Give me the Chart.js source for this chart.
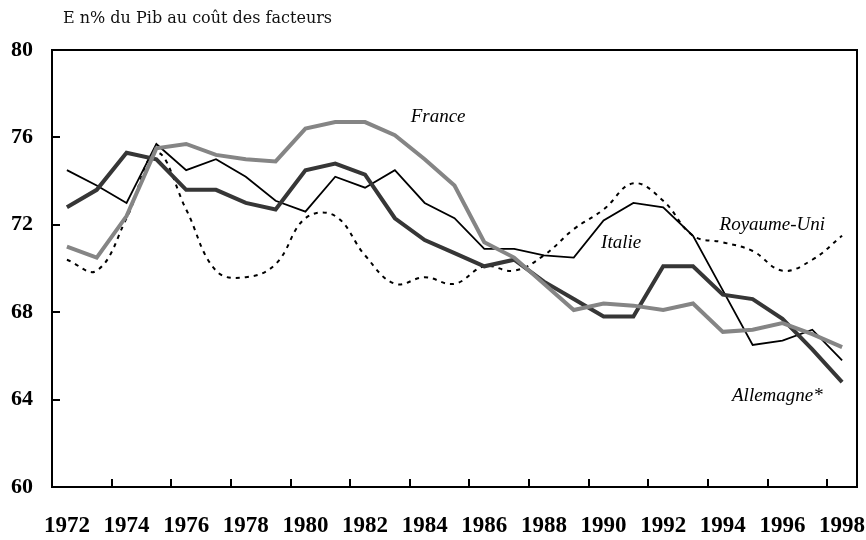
<!DOCTYPE html>
<html>
<head>
<meta charset="utf-8">
<script src="https://cdn.jsdelivr.net/npm/chart.js@4/dist/chart.umd.min.js"></script>
<style>
  html, body { margin: 0; padding: 0; background: #ffffff; }
  #wrap { width: 866px; height: 540px; position: relative; }
</style>
</head>
<body>
<div id="wrap"><canvas id="c" width="866" height="540"></canvas></div>
<script>
// ---- Data ----
const years = ["1972","1973","1974","1975","1976","1977","1978","1979","1980","1981","1982","1983","1984","1985","1986","1987","1988","1989","1990","1991","1992","1993","1994","1995","1996","1997","1998"];

const france    = [71.0, 70.5, 72.4, 75.5, 75.7, 75.2, 75.0, 74.9, 76.4, 76.7, 76.7, 76.1, 75.0, 73.8, 71.2, 70.5, 69.3, 68.1, 68.4, 68.3, 68.1, 68.4, 67.1, 67.2, 67.5, 67.0, 66.4];
const allemagne = [72.8, 73.6, 75.3, 75.0, 73.6, 73.6, 73.0, 72.7, 74.5, 74.8, 74.3, 72.3, 71.3, 70.7, 70.1, 70.4, 69.4, 68.6, 67.8, 67.8, 70.1, 70.1, 68.8, 68.6, 67.7, 66.3, 64.8];
const italie    = [74.5, 73.8, 73.0, 75.7, 74.5, 75.0, 74.2, 73.1, 72.6, 74.2, 73.7, 74.5, 73.0, 72.3, 70.9, 70.9, 70.6, 70.5, 72.2, 73.0, 72.8, 71.5, 69.0, 66.5, 66.7, 67.2, 65.8];
const royaumeUni= [70.4, 69.9, 72.3, 75.3, 72.7, 69.9, 69.6, 70.2, 72.3, 72.4, 70.6, 69.3, 69.6, 69.3, 70.1, 69.9, 70.6, 71.8, 72.7, 73.9, 73.1, 71.5, 71.2, 70.8, 69.9, 70.4, 71.5];

const yTicks = [60, 64, 68, 72, 76, 80];

const seriesLabels = ["France", "Allemagne*", "Italie", "Royaume-Uni"];
// Label anchors in data space: [category index, value]
const labelAnchors = [[12.45, 76.92], [23.83, 64.18], [18.59, 71.16], [23.66, 71.99]];

const title = "E n% du Pib au coût des facteurs";

// ---- Plugins (drawing only) ----
const framePlugin = {
  id: 'frame',
  afterDraw(chart) {
    const {ctx, chartArea: a, scales} = chart;
    ctx.save();
    ctx.strokeStyle = '#000';
    ctx.lineWidth = 2;
    ctx.beginPath();
    ctx.moveTo(a.left, a.top);
    ctx.lineTo(a.right, a.top);
    ctx.lineTo(a.right, a.bottom);
    ctx.stroke();
    // title
    ctx.fillStyle = '#111';
    ctx.font = '16px "DejaVu Serif"';
    ctx.textAlign = 'left';
    ctx.textBaseline = 'alphabetic';
    ctx.fillText(title, 63, 23);
    // series labels
    ctx.fillStyle = '#000';
    ctx.font = 'italic 19px "Liberation Serif"';
    ctx.textAlign = 'center';
    ctx.textBaseline = 'middle';
    seriesLabels.forEach((t, i) => {
      const x = scales.x.getPixelForValue(labelAnchors[i][0]);
      const y = scales.y.getPixelForValue(labelAnchors[i][1]);
      ctx.fillText(t, x, y);
    });
    ctx.restore();
  }
};

new Chart(document.getElementById('c'), {
  type: 'line',
  data: {
    labels: years,
    datasets: [
      { label: 'France', data: france, borderColor: '#858585', borderWidth: 4, pointRadius: 0, tension: 0, fill: false },
      { label: 'Allemagne*', data: allemagne, borderColor: '#363636', borderWidth: 4, pointRadius: 0, tension: 0, fill: false },
      { label: 'Italie', data: italie, borderColor: '#000000', borderWidth: 1.8, pointRadius: 0, tension: 0, fill: false },
      { label: 'Royaume-Uni', data: royaumeUni, borderColor: '#000000', borderWidth: 2, borderDash: [4, 5], pointRadius: 0, tension: 0.4, fill: false }
    ]
  },
  options: {
    responsive: false,
    animation: false,
    devicePixelRatio: 1,
    layout: { padding: { top: 50, right: 9, left: 0, bottom: 0 } },
    plugins: { legend: { display: false }, tooltip: { enabled: false }, title: { display: false } },
    scales: {
      x: {
        type: 'category',
        offset: true,
        grid: {
          offset: true,
          drawOnChartArea: false,
          drawTicks: true,
          tickLength: -8,
          lineWidth: 2,
          color: (ctx) => (ctx.index % 2 === 0 ? '#000' : 'rgba(0,0,0,0)')
        },
        border: { display: true, color: '#000', width: 2 },
        ticks: {
          autoSkip: false,
          maxRotation: 0,
          color: '#000',
          font: { family: '"Liberation Serif"', size: 23, weight: 'bold' },
          padding: 33,
          callback: function (v, i) { return i % 2 === 0 ? this.getLabelForValue(v) : ''; }
        },
        afterFit: (s) => { s.height = 53; s.paddingLeft = 0; s.paddingRight = 0; }
      },
      y: {
        min: 60, max: 80,
        afterBuildTicks: (s) => { s.ticks = yTicks.map(v => ({ value: v })); },
        grid: { drawOnChartArea: false, drawTicks: true, tickLength: -8, lineWidth: 2, color: '#000' },
        border: { display: true, color: '#000', width: 2 },
        ticks: { color: '#000', font: { family: '"Liberation Serif"', size: 22, weight: 'bold' }, padding: 27 },
        afterFit: (s) => { s.width = 52; s.paddingTop = 0; s.paddingBottom = 0; }
      }
    }
  },
  plugins: [framePlugin]
});
</script>
</body>
</html>
